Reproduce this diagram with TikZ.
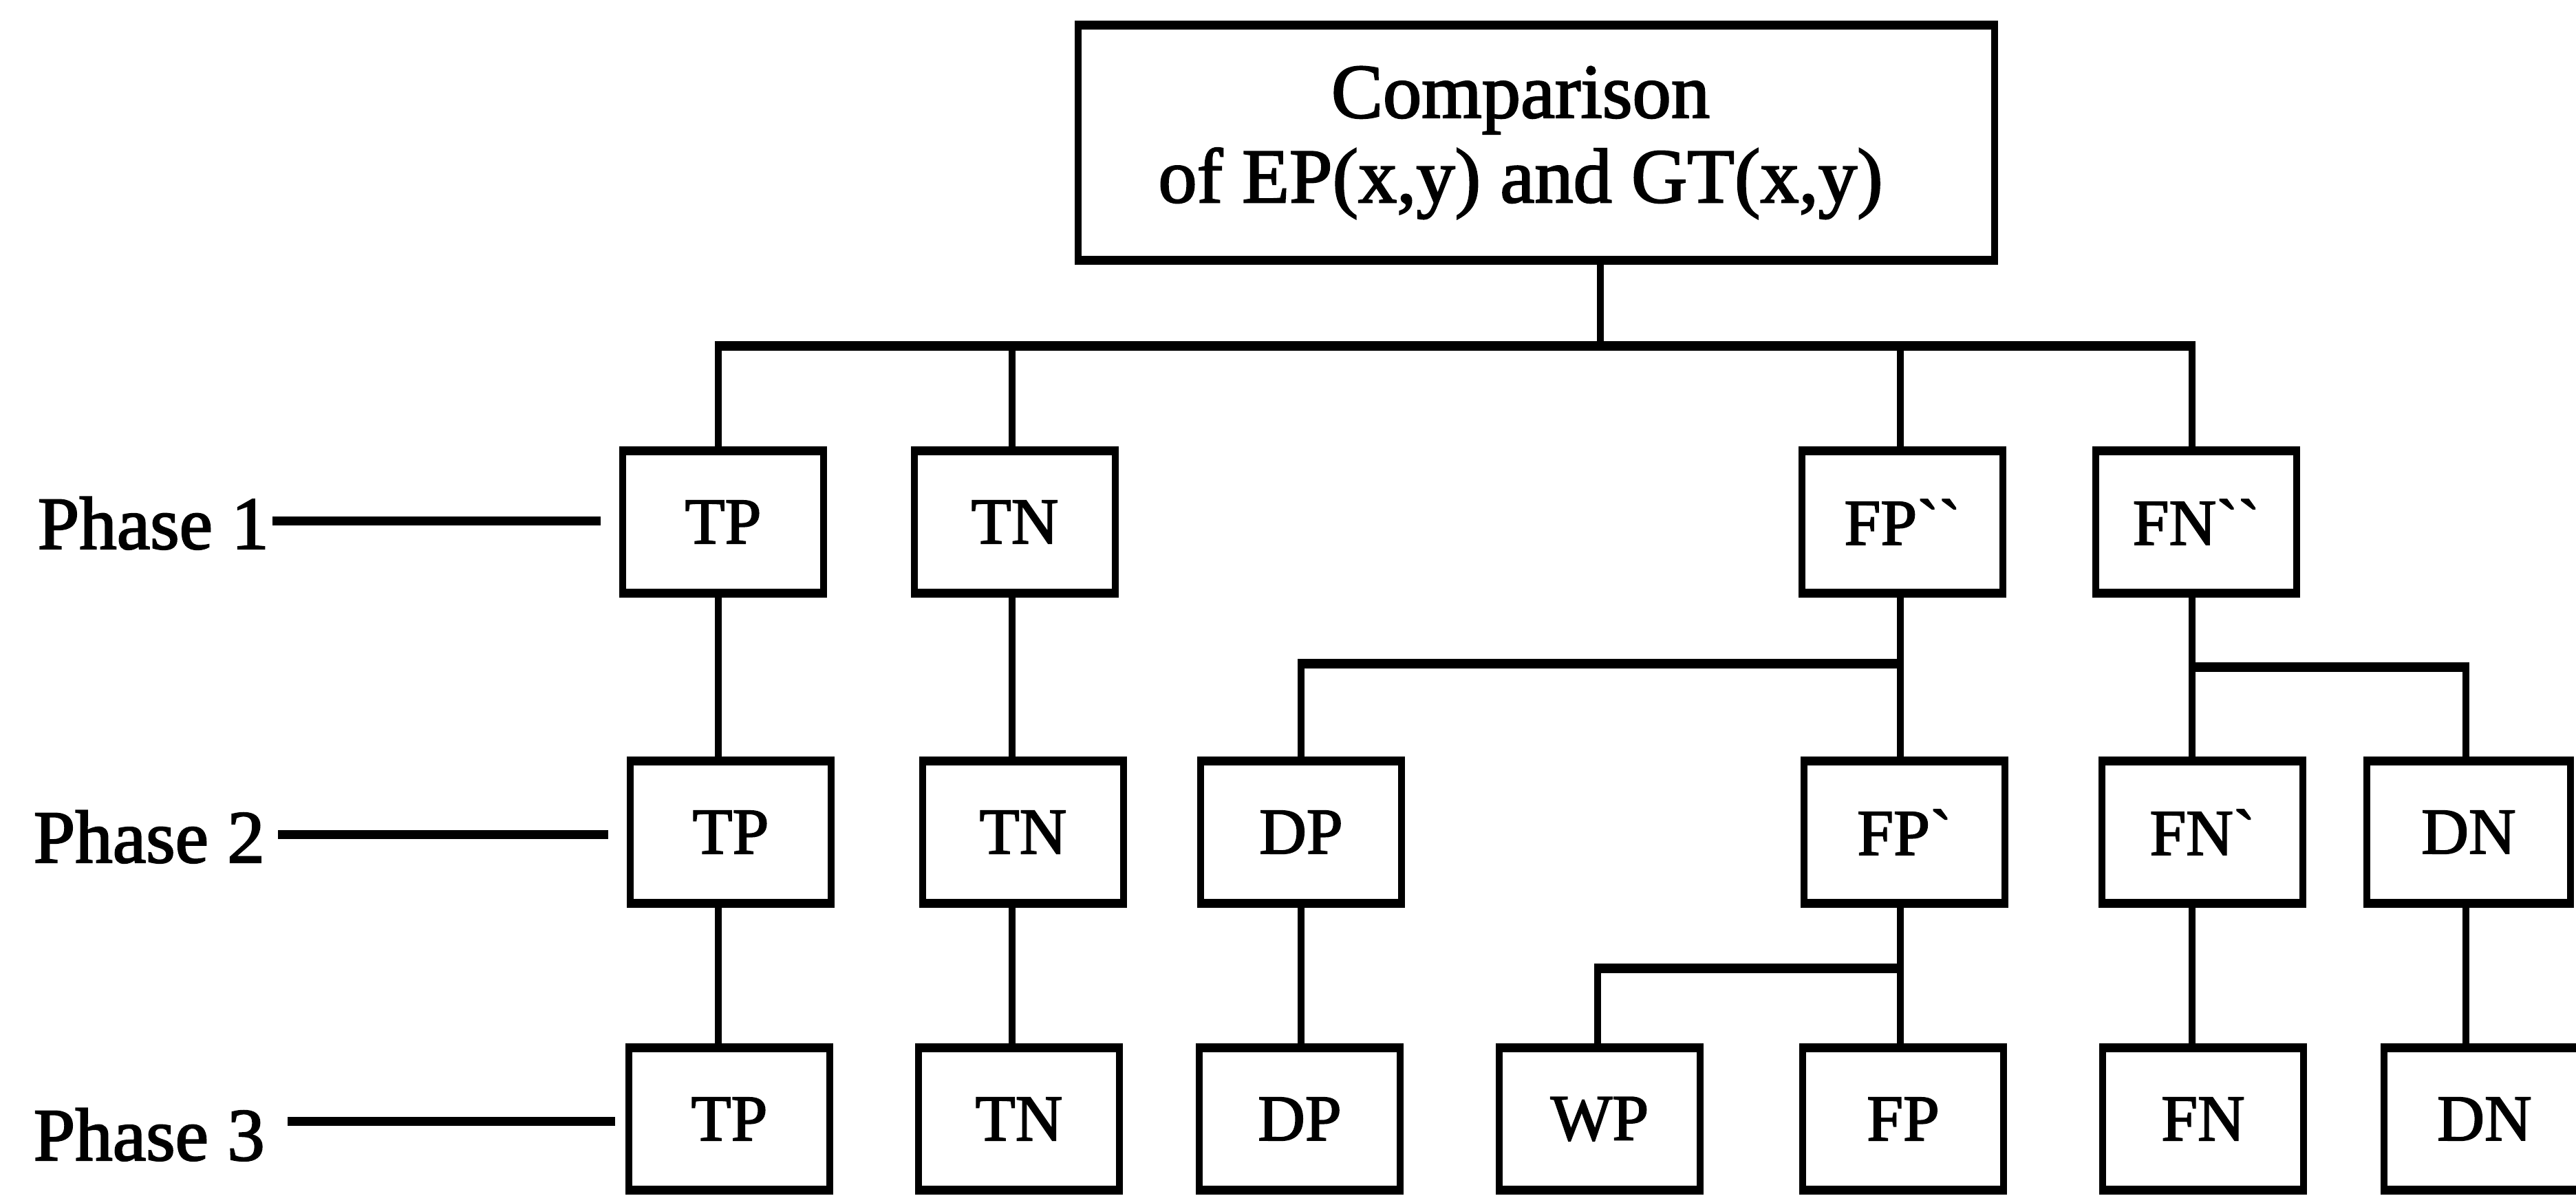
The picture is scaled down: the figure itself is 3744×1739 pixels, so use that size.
\documentclass[tikz,border=0pt]{standalone}
\usepackage{fontspec}
\setmainfont{Liberation Serif}[Ligatures=TeXOff, FakeBold=2]
\begin{document}
\begin{tikzpicture}[x=0.01cm,y=-0.01cm,
  cell/.style={draw, line width=0.1cm, minimum width=2.91cm, minimum height=2.07cm,
               inner sep=0pt, outer sep=0pt, font=\fontsize{27}{30}\selectfont},
  hedge/.style={line width=0.135cm, shorten <=-0.05cm, shorten >=-0.05cm},
  stem/.style={line width=0.1cm},
  joinline/.style={line width=0.14cm, shorten <=-0.05cm, shorten >=-0.05cm},
  phaseline/.style={line width=0.13cm},
  phaselabel/.style={anchor=base west, inner sep=0pt, font=\fontsize{31}{34}\selectfont},
]
\useasboundingbox (0,0) rectangle (3744,1739);

% root box
\node[draw, line width=0.1cm, minimum width=13.31cm, minimum height=3.42cm, inner sep=0pt,
      outer sep=0pt, align=center, font=\fontsize{32}{35}\selectfont] (cmp) at (2233,207.5)
  {Comparison\hspace*{0.46cm}\\of EP(x,y) and GT(x,y)\hspace*{0.46cm}};

% phase 1
\node[cell] (tp1) at (1051,759) {TP};
\node[cell] (tn1) at (1475,759) {TN};
\node[cell] (fpa) at (2765,759) {FP\symbol{96}\symbol{96}};
\node[cell] (fna) at (3192,759) {FN\symbol{96}\symbol{96}};

% phase 2
\node[cell] (tp2) at (1062,1210) {TP};
\node[cell] (tn2) at (1487,1210) {TN};
\node[cell] (dp2) at (1891,1210) {DP};
\node[cell] (fpb) at (2768,1210) {FP\symbol{96}};
\node[cell] (fnb) at (3201,1210) {FN\symbol{96}};
\node[cell, minimum width=2.96cm] (dn2) at (3588,1210) {DN};

% phase 3
\node[cell] (tp3) at (1060,1627) {TP};
\node[cell] (tn3) at (1481,1627) {TN};
\node[cell] (dp3) at (1889,1627) {DP};
\node[cell] (wp3) at (2325,1627) {WP};
\node[cell] (fp3) at (2766,1627) {FP};
\node[cell] (fn3) at (3202,1627) {FN};
\node[cell] (dn3) at (3611,1627) {DN};

% heavier horizontal box edges
\foreach \n in {cmp,tp1,tn1,fpa,fna,tp2,tn2,dp2,fpb,fnb,dn2,tp3,tn3,dp3,wp3,fp3,fn3,dn3}{
  \draw[hedge] (\n.north west) -- (\n.north east);
  \draw[hedge] (\n.south west) -- (\n.south east);
}

% column and rail positions
\coordinate (ctop) at (2326,0);
\coordinate (cTP) at (1044,0);
\coordinate (cTN) at (1471,0);
\coordinate (cDP) at (1891,0);
\coordinate (cWP) at (2322,0);
\coordinate (cFP) at (2762,0);
\coordinate (cFN) at (3186,0);
\coordinate (cDN) at (3584,0);
\coordinate (busy) at (0,503);
\coordinate (fpj) at (0,965);
\coordinate (fnj) at (0,970);
\coordinate (wpj) at (0,1408);

% root to phase 1
\draw[stem] (cmp.south -| ctop) -- (busy -| ctop);
\draw[joinline] (busy -| cTP) -- (busy -| cFN);
\foreach \c/\n in {cTP/tp1, cTN/tn1, cFP/fpa, cFN/fna}
  \draw[stem] (busy -| \c) -- (\n.north -| \c);

% phase 1 to phase 2
\draw[stem] (tp1.south -| cTP) -- (tp2.north -| cTP);
\draw[stem] (tn1.south -| cTN) -- (tn2.north -| cTN);
\draw[stem] (fpa.south -| cFP) -- (fpb.north -| cFP);
\draw[joinline] (fpj -| cDP) -- (fpj -| cFP);
\draw[stem] (fpj -| cDP) -- (dp2.north -| cDP);
\draw[stem] (fna.south -| cFN) -- (fnb.north -| cFN);
\draw[joinline] (fnj -| cFN) -- (fnj -| cDN);
\draw[stem] (fnj -| cDN) -- (dn2.north -| cDN);

% phase 2 to phase 3
\draw[stem] (tp2.south -| cTP) -- (tp3.north -| cTP);
\draw[stem] (tn2.south -| cTN) -- (tn3.north -| cTN);
\draw[stem] (dp2.south -| cDP) -- (dp3.north -| cDP);
\draw[stem] (fpb.south -| cFP) -- (fp3.north -| cFP);
\draw[joinline] (wpj -| cWP) -- (wpj -| cFP);
\draw[stem] (wpj -| cWP) -- (wp3.north -| cWP);
\draw[stem] (fnb.south -| cFN) -- (fn3.north -| cFN);
\draw[stem] (dn2.south -| cDN) -- (dn3.north -| cDN);

% phase labels and their leader lines
\node[phaselabel] (ph1) at (54,798) {Phase 1};
\node[phaselabel] (ph2) at (48,1254) {Phase 2};
\node[phaselabel] (ph3) at (48,1687) {Phase 3};
\coordinate (l1) at (396,757);
\coordinate (l2) at (404,1213);
\coordinate (l3) at (418,1630);
\draw[phaseline, shorten >=0.32cm] (l1) -- (tp1.west |- l1);
\draw[phaseline, shorten >=0.32cm] (l2) -- (tp2.west |- l2);
\draw[phaseline, shorten >=0.20cm] (l3) -- (tp3.west |- l3);
\end{tikzpicture}
\end{document}
